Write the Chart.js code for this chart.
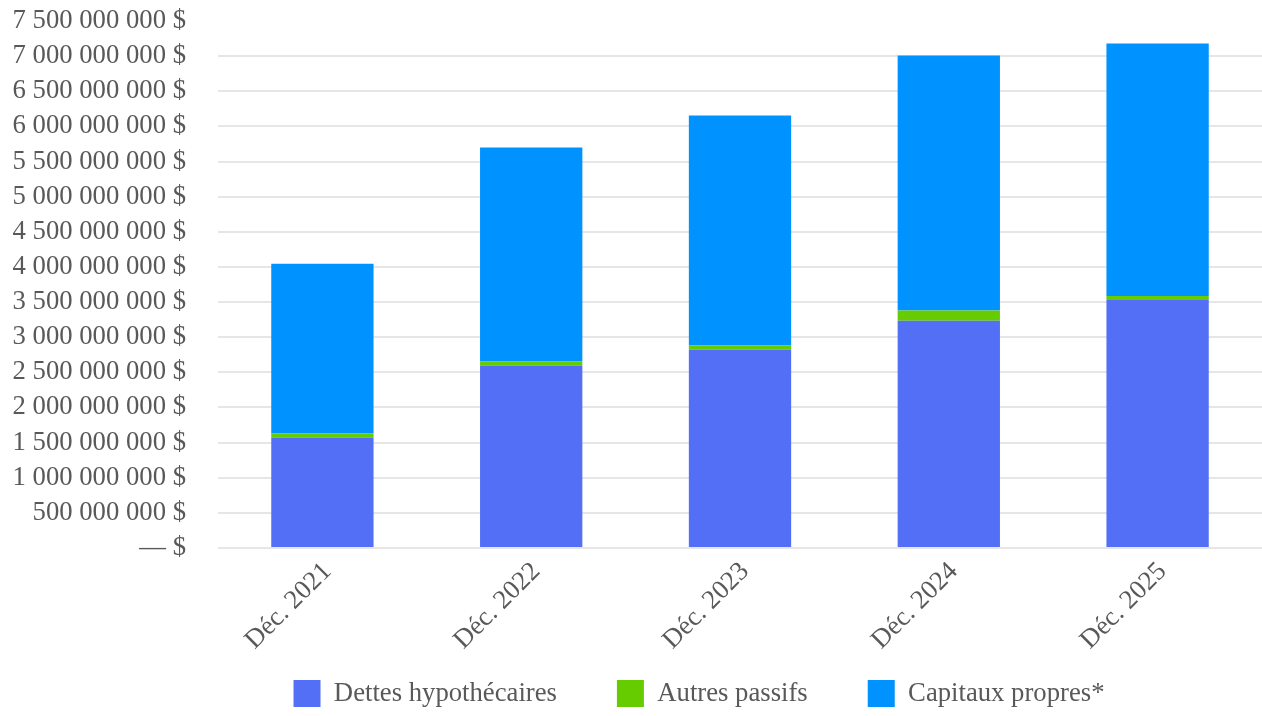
<!DOCTYPE html>
<html lang="fr">
<head>
<meta charset="utf-8">
<title>Passifs et capitaux propres</title>
<script src="https://cdn.jsdelivr.net/npm/chart.js@4/dist/chart.umd.min.js"></script>
<style>
  html, body { margin: 0; padding: 0; background: #fff; }
  #wrap { width: 1262px; height: 716px; position: relative; }
</style>
</head>
<body>
<div id="wrap"><canvas id="barChart"></canvas></div>
<script>
// valeurs (en $)
const periods = ["Déc. 2021", "Déc. 2022", "Déc. 2023", "Déc. 2024", "Déc. 2025"];
const dettesHypothecaires = [1571000000, 2597000000, 2821000000, 3234000000, 3528000000];
const autresPassifs = [57000000, 57000000, 61000000, 147000000, 58000000];
const capitauxPropres = [2418000000, 3044000000, 3272000000, 3628000000, 3593000000];

const textColor = "#595959";
const serif = "'Liberation Serif', 'Times New Roman', serif";
const fontSize = 26.7;

function formatDollars(v) {
  if (v === 0) return "— $";
  return String(v).replace(/\B(?=(\d{3})+(?!\d))/g, " ") + " $";
}

// la légende est remontée sous les étiquettes inclinées et décalée vers la gauche
const legendNudge = {
  id: "legendNudge",
  afterLayout(chart) {
    const lg = chart.legend;
    lg.top -= 43;
    lg.bottom = chart.height;
    lg.left -= 41;
    lg.right -= 41;
  },
};

const ctx = document.getElementById("barChart").getContext("2d");
new Chart(ctx, {
  type: "bar",
  data: {
    labels: periods,
    datasets: [
      { label: "Dettes hypothécaires", data: dettesHypothecaires, backgroundColor: "#536ff5" },
      { label: "Autres passifs", data: autresPassifs, backgroundColor: "#66cc00" },
      { label: "Capitaux propres*", data: capitauxPropres, backgroundColor: "#0093ff" },
    ],
  },
  plugins: [legendNudge],
  options: {
    responsive: true,
    maintainAspectRatio: false,
    animation: false,
    layout: { padding: { top: 21, left: 12, right: 0, bottom: 13 } },
    datasets: { bar: { barPercentage: 0.49, categoryPercentage: 1 } },
    scales: {
      x: {
        stacked: true,
        grid: { display: false },
        border: { display: false },
        ticks: {
          autoSkip: false,
          color: textColor,
          font: { family: serif, size: fontSize },
          minRotation: 45,
          maxRotation: 45,
          padding: 0,
          labelOffset: 5,
        },
        afterFit: (scale) => {
          scale.height = 115;
          scale.paddingLeft = 0;
          scale.paddingRight = 0;
        },
      },
      y: {
        stacked: true,
        min: 0,
        max: 7500000000,
        border: { display: false },
        grid: {
          drawTicks: false,
          lineWidth: 2,
          // pas de ligne au sommet de l'axe
          color: (c) => (c.tick && c.tick.value === 7500000000 ? "rgba(0,0,0,0)" : "#e6e6e6"),
        },
        ticks: {
          autoSkip: false,
          stepSize: 500000000,
          padding: 32,
          color: textColor,
          font: { family: serif, size: fontSize },
          callback: (v) => formatDollars(v),
        },
        afterFit: (scale) => {
          scale.width = 206;
          scale.paddingTop = 0;
          scale.paddingBottom = 0;
        },
      },
    },
    plugins: {
      tooltip: { enabled: false },
      legend: {
        position: "bottom",
        fullSize: false,
        maxHeight: 40,
        labels: {
          color: textColor,
          font: { family: serif, size: fontSize },
          boxWidth: 27,
          boxHeight: 27,
          padding: 60,
        },
      },
    },
  },
});
</script>
</body>
</html>
